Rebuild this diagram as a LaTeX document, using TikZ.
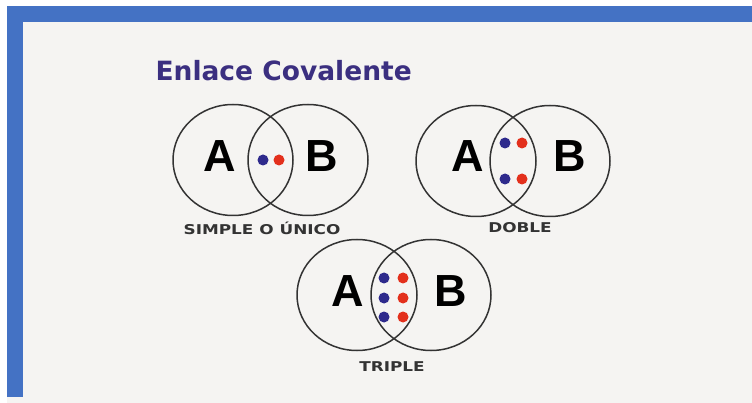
\documentclass[tikz,border=0pt]{standalone}
\usepackage{fontspec}
\usetikzlibrary{shapes.geometric}
\newfontfamily\titlefont{DejaVu Sans}
\newfontfamily\capsfont[FakeStretch=1.25]{DejaVu Sans}
\setmainfont{Liberation Sans}
\definecolor{barblue}{HTML}{4472C4}
\definecolor{paper}{HTML}{F5F4F2}
\definecolor{titleink}{HTML}{3B2F80}
\definecolor{eblue}{HTML}{2E2A8C}
\definecolor{ered}{HTML}{E3301C}
\definecolor{ring}{HTML}{333333}
\tikzset{
  atom/.style={draw=ring, line width=1.5pt, ellipse, minimum width=120pt, minimum height=111pt},
  letter/.style={font=\fontsize{45}{45}\selectfont\bfseries},
  kind/.style={font=\capsfont\fontsize{13.5}{13.5}\selectfont\bfseries, text=ring},
  eb/.style={circle, fill=eblue, inner sep=0pt, minimum size=11pt},
  er/.style={circle, fill=ered, inner sep=0pt, minimum size=11pt}
}
\begin{document}
\begin{tikzpicture}[x=1pt,y=-1pt]
\useasboundingbox (0,0) rectangle (752,403);
\fill[white] (0,0) rectangle (752,403);
\fill[paper] (7,6) rectangle (752,403);
\fill[barblue] (7,6) rectangle (752,22);
\fill[barblue] (7,6) rectangle (23,397);

\node[font=\titlefont\fontsize{26.5}{26.5}\selectfont\bfseries, text=titleink, anchor=west] (title) at (152,71) {Enlace Covalente};

% simple
\node[atom] (a1) at (233,160) {};
\node[atom] (b1) at (308,160) {};
\node[letter] (la1) at (220,156) {A};
\node[letter] (lb1) at (322,156) {B};
\node[eb] (e1) at (263,160) {};
\node[er] (r1) at (279,160) {};
\node[kind] (k1) at (262,228) {SIMPLE O ÚNICO};

% doble
\node[atom] (a2) at (476,161) {};
\node[atom] (b2) at (550,161) {};
\node[letter] (la2) at (468,156) {A};
\node[letter] (lb2) at (570,156) {B};
\node[eb] (e2) at (505,143) {};
\node[er] (r2) at (522,143) {};
\node[eb] (e3) at (505,179) {};
\node[er] (r3) at (522,179) {};
\node[kind] (k2) at (520,228) {DOBLE};

% triple
\node[atom] (a3) at (357,295) {};
\node[atom] (b3) at (431,295) {};
\node[letter] (la3) at (348,291) {A};
\node[letter] (lb3) at (451,291) {B};
\foreach \y [count=\i] in {278,298,317} {
  \node[eb] (e4\i) at (384,\y) {};
  \node[er] (r4\i) at (403,\y) {};
}
\node[kind] (k3) at (392,367) {TRIPLE};
\end{tikzpicture}
\end{document}
